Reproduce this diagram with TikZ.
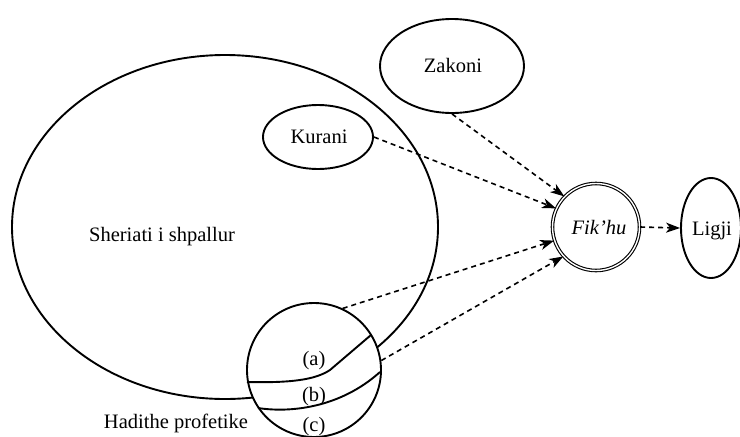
\documentclass[tikz,border=0pt]{standalone}
\usepackage{fontspec}
\setmainfont{Liberation Serif}
\usetikzlibrary{shapes.geometric,arrows.meta}

\tikzset{
  txt/.style={font=\fontsize{20.5}{24}\selectfont, inner sep=0pt, anchor=base},
  oval/.style={ellipse, draw, line width=1.9pt, inner sep=0pt},
  ring/.style={circle, draw, line width=1.9pt, inner sep=0pt},
  cut/.style={line width=1.9pt},
  arr/.style={line width=1.6pt, dash pattern=on 5pt off 4pt,
    -{Stealth[length=14pt, width=10pt, inset=4pt]}},
}

\begin{document}
\begin{tikzpicture}[x=1pt, y=-1pt]
  \useasboundingbox (0,0) rectangle (740,437);

  % revealed law and its sources
  \node[oval, minimum width=426pt, minimum height=344pt] (sher) at (225,227) {};
  \node[txt] (shertxt) at (162,241) {Sheriati i shpallur};

  \node[oval, minimum width=110pt, minimum height=64pt] (kur) at (318,137) {};
  \node[txt] (kurtxt) at (319,143) {Kurani};

  \node[oval, minimum width=144pt, minimum height=94pt] (zak) at (452,66) {};
  \node[txt] (zaktxt) at (453,72) {Zakoni};

  % prophetic traditions, split into three parts
  \node[ring, fill=white, minimum size=134pt] (had) at (314,370) {};
  \draw[cut] (247,382) .. controls (290,383) and (315,380) .. (330,370) -- (371,335);
  \draw[cut] (258,408) .. controls (290,413) and (340,408) .. (380,372);
  \node[txt] (la) at (314,365) {(a)};
  \node[txt] (lb) at (314,401) {(b)};
  \node[txt] (lc) at (314,431) {(c)};
  \node[txt] (hadtxt) at (176,428) {Hadithe profetike};

  % jurisprudence and law
  \node[circle, draw, line width=1.1pt, double, double distance=1.4pt,
        minimum size=87pt, inner sep=0pt] (fik) at (596,227) {};
  \node[txt] (fiktxt) at (599,234) {\itshape Fik’hu};

  \node[oval, minimum width=60pt, minimum height=100pt] (lig) at (711,228) {};
  \node[txt] (ligtxt) at (712,235) {Ligji};

  % dashed influences
  \draw[arr] (zak.south) -- (fik.136);
  \draw[arr] (kur.east) -- (fik.155);
  \draw[arr] (had.65) -- (fik.198);
  \draw[arr] (had.8) -- (fik.222);
  \draw[arr] (fik.east) -- (lig.west);
\end{tikzpicture}
\end{document}
